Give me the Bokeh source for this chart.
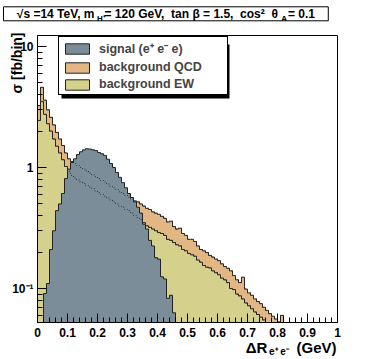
import numpy as np
from bokeh.plotting import figure
from bokeh.models import Range1d, FixedTicker, Label, Legend, LegendItem, BoxAnnotation
from bokeh.embed import file_html
from bokeh.resources import INLINE

# ---------------- data (bin width 0.01 in Delta R) ----------------
BIN_WIDTH = 0.01
N_BINS = 100

signal = [0.0, 0.04, 0.091, 0.11, 0.21, 0.30, 0.44, 0.50, 0.61, 0.81,
          0.97, 1.10, 1.18, 1.28, 1.35, 1.40, 1.43, 1.42, 1.40, 1.38,
          1.33, 1.30, 1.26, 1.17, 1.08, 1.00, 0.91, 0.83, 0.75, 0.68,
          0.61, 0.565, 0.52, 0.47, 0.42, 0.34, 0.31, 0.25, 0.225, 0.18,
          0.175, 0.125, 0.12, 0.083, 0.088, 0.063]

bkg_ew = [2.45, 3.5, 2.75, 2.3, 2.0, 1.72, 1.5, 1.32, 1.16, 1.02,
          0.93, 0.86, 0.82, 0.79, 0.76, 0.74, 0.71, 0.69, 0.67, 0.64,
          0.62, 0.60, 0.58, 0.56, 0.54, 0.52, 0.50, 0.48, 0.47, 0.45,
          0.44, 0.42, 0.40, 0.385, 0.37, 0.35, 0.33, 0.32, 0.31, 0.30,
          0.29, 0.285, 0.275, 0.255, 0.25, 0.24, 0.23, 0.225, 0.21, 0.205,
          0.195, 0.19, 0.185, 0.172, 0.165, 0.155, 0.15, 0.148, 0.14, 0.135,
          0.13, 0.122, 0.118, 0.112, 0.10, 0.098, 0.09, 0.087, 0.082, 0.076,
          0.072, 0.068, 0.064, 0.061, 0.058, 0.055, 0.05, 0.047, 0.045, 0.042,
          0.04, 0.04]

bkg_qcd = [0.80, 1.10, 0.85, 0.70, 0.60, 0.53, 0.45, 0.40, 0.36, 0.30,
           0.25, 0.26, 0.26, 0.25, 0.24, 0.23, 0.23, 0.21, 0.20, 0.20,
           0.19, 0.18, 0.18, 0.17, 0.16, 0.16, 0.16, 0.15, 0.14, 0.14,
           0.13, 0.13, 0.13, 0.135, 0.13, 0.13, 0.13, 0.13, 0.12, 0.12,
           0.12, 0.11, 0.105, 0.10, 0.11, 0.085, 0.08, 0.09, 0.075, 0.07,
           0.06, 0.065, 0.06, 0.053, 0.045, 0.05, 0.048, 0.04, 0.042, 0.04,
           0.04, 0.038, 0.034, 0.035, 0.04, 0.03, 0.028, 0.025, 0.042, 0.023,
           0.02, 0.02, 0.018, 0.017, 0.017, 0.015, 0.016, 0.015, 0.014, 0.014,
           0.013, 0.02]

labels = ["signal (e\u207a e\u207b e)", "background QCD", "background EW"]

x_ticks = [0.0, 0.1, 0.2, 0.3, 0.4, 0.5, 0.6, 0.7, 0.8, 0.9, 1.0]
x_minor = [0.02, 0.04, 0.06, 0.08, 0.12, 0.14, 0.16, 0.18, 0.22, 0.24, 0.26, 0.28,
           0.32, 0.34, 0.36, 0.38, 0.42, 0.44, 0.46, 0.48, 0.52, 0.54, 0.56, 0.58,
           0.62, 0.64, 0.66, 0.68, 0.72, 0.74, 0.76, 0.78, 0.82, 0.84, 0.86, 0.88,
           0.92, 0.94, 0.96, 0.98]
y_ticks = [0.1, 1.0, 10.0]
y_minor = [0.06, 0.07, 0.08, 0.09, 0.2, 0.3, 0.4, 0.5, 0.6, 0.7, 0.8, 0.9,
           2.0, 3.0, 4.0, 5.0, 6.0, 7.0, 8.0, 9.0]
y_tick_labels = {0.1: "10\u207b\u00b9", 1.0: "1", 10.0: "10"}

NB = "\u00a0"
title_main = (NB * 4 + "\u221as =14 TeV, m" + NB * 3 + "= 120 GeV," + NB + " tan \u03b2 = 1.5,"
              + NB + " cos\u00b2" + NB + " \u03b8" + NB * 3 + "= 0.1" + NB * 4)
title_subs = "H\u207a" + NB * 79 + "A"
x_title = "\u0394R" + NB * 7 + "(GeV)"
x_title_sub = "e\u207a e\u207b"
y_title = "\u03c3 [fb/bin]"

# ---------------- styling ----------------
C_SIG = "#7b8d99"
C_QCD = "#e2b784"
C_EW = "#d5d08b"
C_LINE = "#222222"
FONT = "Liberation Sans"
FLOOR = 1e-4


def pad(v):
    a = np.zeros(N_BINS)
    a[:len(v)] = v
    return a


edges = np.arange(N_BINS + 1) * BIN_WIDTH
sig = pad(signal)
ew = pad(bkg_ew)
total = ew + pad(bkg_qcd)


def step(vals):
    v = np.where(vals > 0, vals, FLOOR)
    return list(np.repeat(edges, 2)[1:-1]), list(np.repeat(v, 2))


def closed(vals):
    xs, ys = step(vals)
    return [edges[0]] + xs + [edges[-1]], [FLOOR] + ys + [FLOOR]


p = figure(width=374, height=359, x_range=Range1d(0, 1), y_range=Range1d(0.0524, 12.33),
           y_axis_type="log", output_backend="svg", toolbar_location=None, tools="",
           min_border_left=37, min_border_right=37, min_border_top=35, min_border_bottom=37)
p.title = None
p.xgrid.visible = False
p.ygrid.visible = False
p.outline_line_color = "black"
p.outline_line_width = 1
p.outline_line_alpha = 1
p.background_fill_color = "white"
p.border_fill_color = "white"

xs, ys = closed(total)
r_qcd = p.patch(xs, ys, fill_color=C_QCD, line_color=C_LINE, line_width=1)
xs, ys = closed(ew)
r_ew = p.patch(xs, ys, fill_color=C_EW, line_color=C_LINE, line_width=1)
xs, ys = closed(sig)
r_sig = p.patch(xs, ys, fill_color=C_SIG, line_color=C_LINE, line_width=1)
# background outlines seen through the signal
xs, ys = step(total)
p.line(xs, ys, line_color="#333333", line_width=1, line_dash="1 2")
xs, ys = step(ew)
p.line(xs, ys, line_color="#333333", line_width=1, line_dash="1 2")

for ax in (p.xaxis[0], p.yaxis[0]):
    ax.major_tick_in = 9
    ax.major_tick_out = 0
    ax.minor_tick_in = 5
    ax.minor_tick_out = 0
    ax.axis_line_color = "black"
    ax.major_tick_line_color = "black"
    ax.minor_tick_line_color = "black"
    ax.major_label_text_font = FONT
    ax.major_label_text_font_style = "bold"
    ax.major_label_text_font_size = "12px"
    ax.major_label_text_color = "black"
p.xaxis[0].major_label_standoff = 5
p.yaxis[0].major_label_standoff = 4
p.xaxis.ticker = FixedTicker(ticks=x_ticks, minor_ticks=x_minor)
p.yaxis.ticker = FixedTicker(ticks=y_ticks, minor_ticks=y_minor)
p.yaxis.major_label_overrides = y_tick_labels


def clab(text, x, y, size, align="left", baseline="alphabetic", angle=0.0, **kw):
    return Label(x=x, y=y, x_units="canvas", y_units="canvas", text=text,
                 text_font=FONT, text_font_style="bold", text_font_size=f"{size}px",
                 text_align=align, text_baseline=baseline, angle=angle, text_color="black", **kw)


# title (boxed) and its subscripts
p.add_layout(clab(title_main, 3, 13.3, 12, border_line_color="black", border_line_width=1,
                  background_fill_color="white", background_fill_alpha=1), "above")
p.add_layout(clab(title_subs, 96.5, 18, 8), "above")
# x-axis title
p.add_layout(clab(x_title, 336, 347, 15, align="right"), "below")
p.add_layout(clab(x_title_sub, 268.5, 351, 10), "right")
# y-axis title
p.add_layout(clab(y_title, 8, 32, 14, align="right", baseline="top", angle=np.pi / 2), "right")

# legend shadow + legend
FL, FB = 37, 322  # frame left / bottom in page pixels
p.add_layout(BoxAnnotation(left=61 - FL, right=229 - FL, top=FB - 44, bottom=FB - 98,
                           left_units="screen", right_units="screen",
                           top_units="screen", bottom_units="screen",
                           fill_color="black", fill_alpha=1, line_color=None))
legend = Legend(items=[LegendItem(label=labels[0], renderers=[r_sig]),
                       LegendItem(label=labels[1], renderers=[r_qcd]),
                       LegendItem(label=labels[2], renderers=[r_ew])],
                location=(58 - FL, FB - 95), orientation="vertical",
                border_line_color="black", border_line_width=1, border_line_alpha=1,
                background_fill_color="white", background_fill_alpha=1,
                label_text_font=FONT, label_text_font_style="bold", label_text_font_size="12.5px",
                glyph_width=30, glyph_height=13, label_height=14, label_standoff=7, label_width=125,
                spacing=3, padding=3, margin=0)
p.add_layout(legend, "center")

open("out.html", "w").write(file_html(p, INLINE))
